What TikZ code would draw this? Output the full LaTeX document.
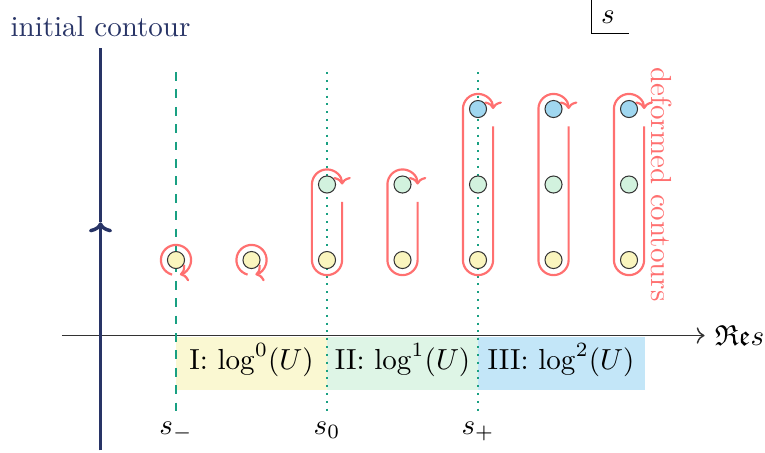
\documentclass[tikz,border=0pt]{standalone}
\usepackage{amssymb}
\usetikzlibrary{calc, arrows.meta}

\definecolor{initcol}{RGB}{40,52,102}
\definecolor{defcol}{RGB}{255,112,112}
\definecolor{sepcol}{RGB}{25,160,130}
\definecolor{dotI}{RGB}{250,245,190}
\definecolor{dotII}{RGB}{210,242,222}
\definecolor{dotIII}{RGB}{160,215,240}
\definecolor{bandI}{RGB}{250,248,210}
\definecolor{bandII}{RGB}{222,245,230}
\definecolor{bandIII}{RGB}{195,230,248}

\begin{document}
\begin{tikzpicture}[x=0.915cm, y=0.915cm]
    % Define styles
    \tikzstyle{pole} = [circle, draw=black!80, line width=0.35pt, inner sep=0pt, minimum size=0.207cm]
    \tikzstyle{contour} = [draw=defcol, line width=0.75pt, -{To[length=2.6pt, width=6pt]}]
    \tikzstyle{initial} = [draw=initcol, line width=1.2pt]
    \tikzstyle{sep} = [draw=sepcol, line width=0.7pt]
    \useasboundingbox (-2.331,-2.543) rectangle (7.801,3.444);

    % Regions
    \fill[bandI] (0,-1.02) rectangle (2,-1.72);
    \fill[bandII] (2,-1.02) rectangle (4,-1.72);
    \fill[bandIII] (4,-1.02) rectangle (6.21,-1.72);
    \node (regI) at (1,-1.33) {I: $\log^0(U)$};
    \node (regII) at (3,-1.33) {II: $\log^1(U)$};
    \node (regIII) at (5.1,-1.33) {III: $\log^2(U)$};

    % Real axis
    \coordinate (xstart) at (-1.51,-1);
    \coordinate (xend) at (7,-1);
    \draw[->, black!80, line width=0.5pt] (xstart) -- (xend) node[right, black] {$\mathfrak{Re}s$};

    % Thresholds
    \coordinate (smtop) at (0,2.49);
    \coordinate (smbot) at (0,-2);
    \coordinate (sztop) at (2,2.49);
    \coordinate (szbot) at (2,-2);
    \coordinate (sptop) at (4,2.49);
    \coordinate (spbot) at (4,-2);
    \draw[sep, dashed] (smtop) -- (smbot) node[below, black] {$s_-$};
    \draw[sep, dotted] (sztop) -- (szbot) node[below, black] {$s_0$};
    \draw[sep, dotted] (sptop) -- (spbot) node[below, black] {$s_+$};

    % Initial contour
    \coordinate (ctop) at (-1,2.81);
    \coordinate (cmid) at (-1,0.5);
    \coordinate (cbot) at (-1,-2.52);
    \draw[initial, -{To[length=3.5pt, width=8pt]}] (cbot) -- (cmid);
    \draw[initial] (cmid) -- (ctop) node[above, text=initcol] {initial contour};

    % Poles
    \node[pole, fill=dotI] (y0) at (0,0) {};
    \node[pole, fill=dotI] (y1) at (1,0) {};
    \node[pole, fill=dotI] (y2) at (2,0) {};
    \node[pole, fill=dotI] (y3) at (3,0) {};
    \node[pole, fill=dotI] (y4) at (4,0) {};
    \node[pole, fill=dotI] (y5) at (5,0) {};
    \node[pole, fill=dotI] (y6) at (6,0) {};
    \node[pole, fill=dotII] (g2) at (2,1) {};
    \node[pole, fill=dotII] (g3) at (3,1) {};
    \node[pole, fill=dotII] (g4) at (4,1) {};
    \node[pole, fill=dotII] (g5) at (5,1) {};
    \node[pole, fill=dotII] (g6) at (6,1) {};
    \node[pole, fill=dotIII] (b4) at (4,2) {};
    \node[pole, fill=dotIII] (b5) at (5,2) {};
    \node[pole, fill=dotIII] (b6) at (6,2) {};

    % Deformed contours
    \draw[contour] ($(y0)+(-105:0.2)$) arc (-105:-435:0.2);
    \draw[contour] ($(y1)+(-105:0.2)$) arc (-105:-435:0.2);
    \draw[contour] ($(g2)+(0.2,-0.23)$) -- ($(y2)+(0.2,0)$) arc (0:-180:0.2) -- ($(g2)+(-0.2,0)$) arc (180:0:0.2);
    \draw[contour] ($(g3)+(0.2,-0.23)$) -- ($(y3)+(0.2,0)$) arc (0:-180:0.2) -- ($(g3)+(-0.2,0)$) arc (180:0:0.2);
    \draw[contour] ($(b4)+(0.2,-0.23)$) -- ($(y4)+(0.2,0)$) arc (0:-180:0.2) -- ($(b4)+(-0.2,0)$) arc (180:0:0.2);
    \draw[contour] ($(b5)+(0.2,-0.23)$) -- ($(y5)+(0.2,0)$) arc (0:-180:0.2) -- ($(b5)+(-0.2,0)$) arc (180:0:0.2);
    \draw[contour] ($(b6)+(0.2,-0.23)$) -- ($(y6)+(0.2,0)$) arc (0:-180:0.2) -- ($(b6)+(-0.2,0)$) arc (180:0:0.2);
    \node[rotate=-90, text=defcol] (deflabel) at (6.43,1.0) {deformed contours};

    % Plane label
    \node (plane) at (5.72,3.22) {$s$};
    \draw[black, line width=0.5pt] (5.5,3.444) |- (6,3);
\end{tikzpicture}
\end{document}
